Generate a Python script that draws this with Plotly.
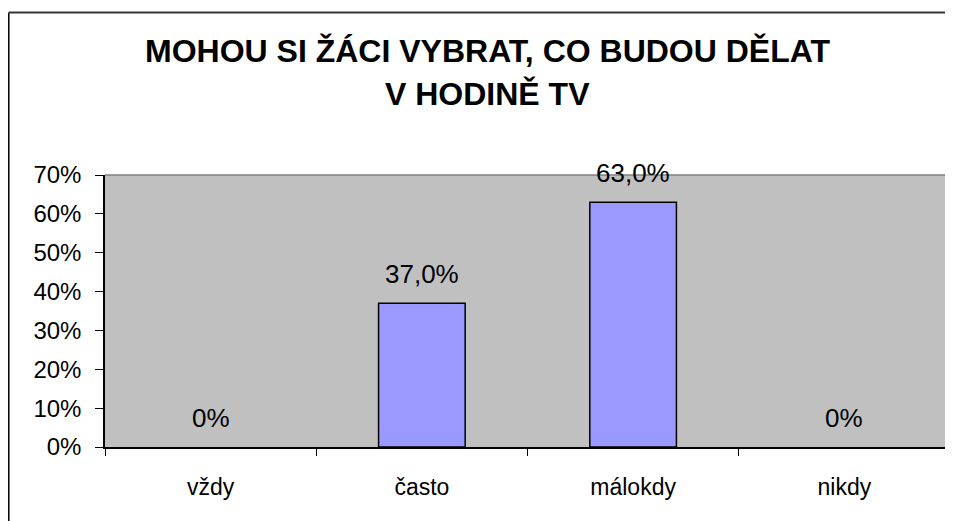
import plotly.graph_objects as go

categories = ["vždy", "často", "málokdy", "nikdy"]
values = [0, 37.0, 63.0, 0]
value_labels = ["0%", "37,0%", "63,0%", "0%"]
y_ticks = [0, 10, 20, 30, 40, 50, 60, 70]
y_tick_labels = ["0%", "10%", "20%", "30%", "40%", "50%", "60%", "70%"]
title_lines = ["MOHOU SI ŽÁCI VYBRAT, CO BUDOU DĚLAT", "V HODINĚ TV"]

# page has an 8px body margin; plot area wanted at page x 105..950, y 175..447
OFF = 8
W, H = 953 - OFF, 521 - OFF
px0, px1, py0, py1 = 105, 950, 175, 447
L, T = px0 - OFF, py0 - OFF
R = W - (px1 - OFF)
B = H - (py1 - OFF)
pw, ph = px1 - px0, py1 - py0


def pxp(x):
    return (x - px0) / pw


def pyp(y):
    return (py1 - y) / ph


font = "Liberation Sans, Arial, sans-serif"

fig = go.Figure()
fig.add_trace(go.Bar(
    x=categories, y=values, width=0.41,
    marker=dict(color="#9999FF",
                line=dict(color="black", width=[1.5 if v > 0 else 0 for v in values])),
    hoverinfo="skip",
))

annotations = []
for c, v, t in zip(categories, values, value_labels):
    annotations.append(dict(x=c, y=v, xref="x", yref="y", text=t, showarrow=False,
                            yanchor="middle", yshift=29,
                            font=dict(family=font, size=26, color="black")))

title_y = [51.5, 94]
for line, yp in zip(title_lines, title_y):
    annotations.append(dict(x=pxp(487), y=pyp(yp), xref="paper", yref="paper",
                            text="<b>" + line + "</b>", showarrow=False,
                            xanchor="center", yanchor="middle",
                            font=dict(family=font, size=32, color="black")))

gray = dict(color="#808080", width=1.5)
shapes = [
    # plot-area border: top and right in gray
    dict(type="line", xref="paper", yref="paper", x0=0, x1=1, y0=1, y1=1, line=gray),
    dict(type="line", xref="paper", yref="paper", x0=1, x1=1, y0=0, y1=1, line=gray),
    # outer chart frame (left and top)
    dict(type="line", xref="paper", yref="paper",
         x0=pxp(8.8), x1=pxp(8.8), y0=pyp(12.5), y1=pyp(530),
         line=dict(color="black", width=1.5)),
    dict(type="line", xref="paper", yref="paper",
         x0=pxp(8.8), x1=pxp(960), y0=pyp(12.5), y1=pyp(12.5),
         line=dict(color="#333333", width=2)),
]

fig.update_layout(
    width=W, height=H,
    margin=dict(l=L, r=R, t=T, b=B, pad=0),
    paper_bgcolor="white", plot_bgcolor="#C0C0C0",
    showlegend=False,
    annotations=annotations, shapes=shapes,
    font=dict(family=font, color="black"),
)
fig.update_xaxes(
    type="category", tickson="boundaries", ticks="outside", ticklen=7, tickcolor="black",
    showline=True, linecolor="black", linewidth=1.5, showgrid=False,
    tickfont=dict(family=font, size=23, color="black"), ticklabelstandoff=19,
)
fig.update_yaxes(
    range=[0, 70], tickvals=y_ticks, ticktext=y_tick_labels, ticks="outside", ticklen=8,
    tickcolor="black", showline=True, linecolor="black", linewidth=1.5, showgrid=False,
    zeroline=False, tickfont=dict(family=font, size=24, color="black"), ticklabelstandoff=9,
)

fig.write_html("out.html")
